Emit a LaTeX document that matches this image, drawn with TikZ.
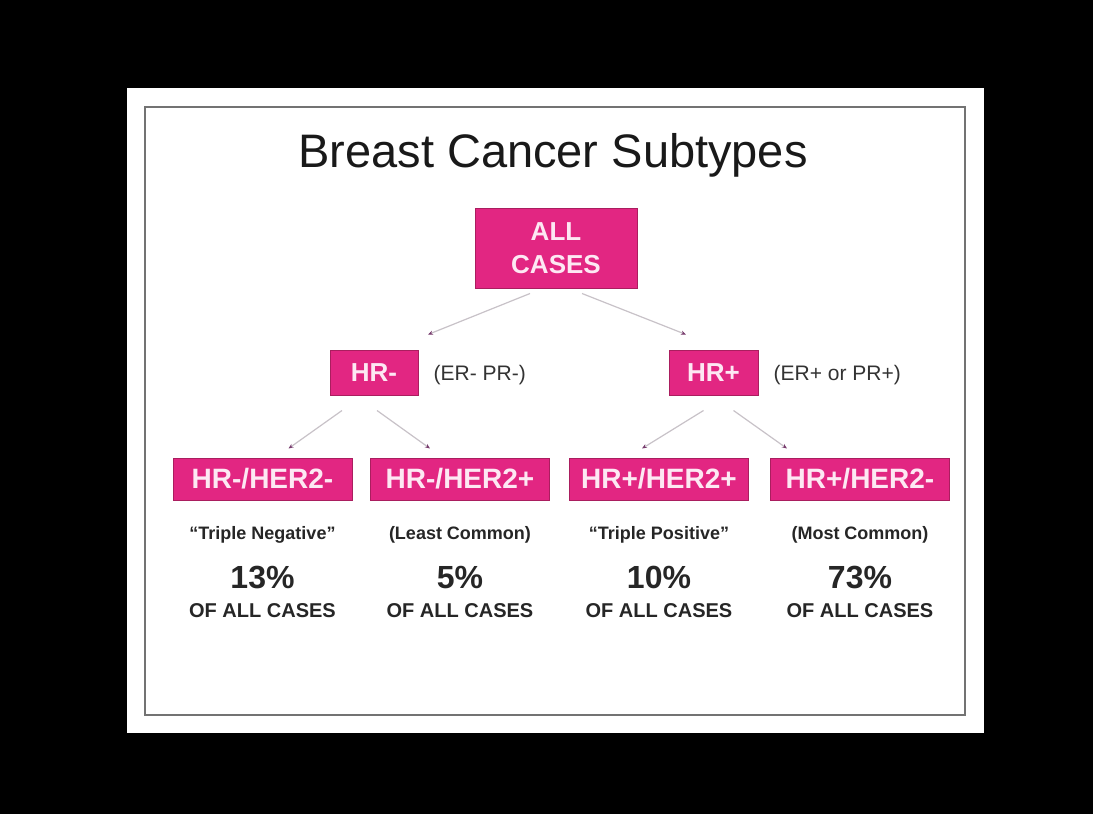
\documentclass[tikz,border=0pt]{standalone}
\usepackage{fontspec}
\setmainfont{Liberation Sans}
\usepackage{tikz}
\usetikzlibrary{positioning,arrows.meta}

\definecolor{hrpink}{RGB}{226,38,130}
\definecolor{hredge}{RGB}{170,30,95}
\definecolor{hrtext}{RGB}{253,232,243}
\definecolor{hrline}{RGB}{200,194,200}
\definecolor{hrtip}{RGB}{120,60,110}

\begin{document}
\begin{tikzpicture}[x=1pt, y=-1pt, node distance=15pt,
  box/.style={draw=hredge, fill=hrpink, line width=1pt, text=hrtext, font=\bfseries\fontsize{26}{33}\selectfont, align=center, inner sep=0pt},
  leaf/.style={box, minimum width=179pt, minimum height=42pt, font=\bfseries\fontsize{28}{30}\selectfont},
  note/.style={inner sep=0pt, yshift=-3pt, text=black!80, font=\fontsize{21}{24}\selectfont},
  tag/.style={anchor=base, inner sep=0pt, text=black!85, font=\bfseries\fontsize{18}{20}\selectfont},
  pct/.style={anchor=base, inner sep=0pt, text=black!85, font=\bfseries\fontsize{32}{34}\selectfont},
  share/.style={anchor=base, inner sep=0pt, text=black!85, font=\bfseries\fontsize{20}{22}\selectfont},
  arr/.style={-{Stealth[length=5pt, width=4pt, color=hrtip]}, line width=1.2pt, color=hrline}]
% frame
\fill[black] (0,0) rectangle (1093,814);
\fill[white] (127,88) rectangle (984,733);
\draw[black!55, line width=2pt] (145,107) rectangle (965,715);
\node[anchor=base, inner sep=0pt, text=black!90, font=\fontsize{47}{50}\selectfont] (title) at (553,167) {Breast Cancer Subtypes};
% tree
\node[box, minimum width=162pt, minimum height=80pt] (all) at (556,248) {ALL\\CASES};
\node[box, minimum width=88pt, minimum height=45pt] (hrn) at (374,372.5) {HR-};
\node[box, minimum width=89pt, minimum height=45pt] (hrp) at (713.5,372.5) {HR+};
\node[note, right=of hrn] (ern) {(ER- PR-)};
\node[note, right=of hrp] (erp) {(ER+ or PR+)};
\node[leaf] (l1) at (262.5,479) {HR-/HER2-};
\node[leaf] (l2) at (460,479) {HR-/HER2+};
\node[leaf] (l3) at (659,479) {HR+/HER2+};
\node[leaf] (l4) at (860,479) {HR+/HER2-};
\draw[arr] ([xshift=-26pt, yshift=-5pt]all.south) -- ([xshift=54pt, yshift=15pt]hrn.north);
\draw[arr] ([xshift=26pt, yshift=-5pt]all.south) -- ([xshift=-27.5pt, yshift=15pt]hrp.north);
\draw[arr] ([xshift=-32pt, yshift=-15pt]hrn.south) -- ([xshift=26pt, yshift=9pt]l1.north);
\draw[arr] ([xshift=3pt, yshift=-15pt]hrn.south) -- ([xshift=-30pt, yshift=9pt]l2.north);
\draw[arr] ([xshift=-10pt, yshift=-15pt]hrp.south) -- ([xshift=-17pt, yshift=9pt]l3.north);
\draw[arr] ([xshift=20pt, yshift=-15pt]hrp.south) -- ([xshift=-73pt, yshift=9pt]l4.north);
% captions
\node[tag] (t1) at (262.5,539) {“Triple Negative”};
\node[tag] (t2) at (460,539) {(Least Common)};
\node[tag] (t3) at (659,539) {“Triple Positive”};
\node[tag] (t4) at (860,539) {(Most Common)};
\node[pct] (p1) at (262.5,588) {13\%};
\node[pct] (p2) at (460,588) {5\%};
\node[pct] (p3) at (659,588) {10\%};
\node[pct] (p4) at (860,588) {73\%};
\node[share] (c1) at (262.5,617) {OF ALL CASES};
\node[share] (c2) at (460,617) {OF ALL CASES};
\node[share] (c3) at (659,617) {OF ALL CASES};
\node[share] (c4) at (860,617) {OF ALL CASES};
\end{tikzpicture}
\end{document}
